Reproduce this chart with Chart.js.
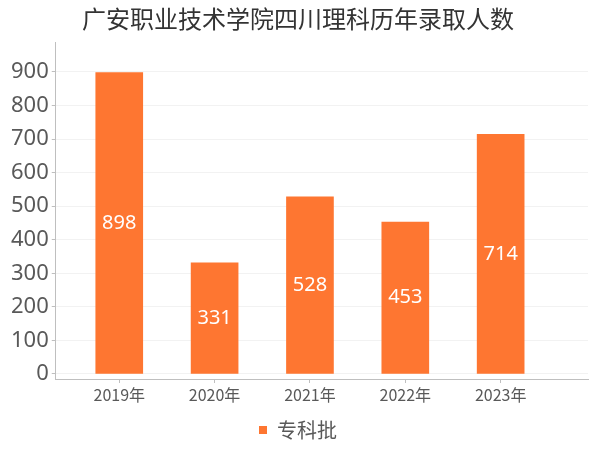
<!DOCTYPE html>
<html>
<head>
<meta charset="utf-8">
<script src="https://cdn.jsdelivr.net/npm/chart.js@4"></script>
<style>
    html, body { margin: 0; padding: 0; background: #fff; }
    #wrap { width: 600px; height: 450px; }
</style>
</head>
<body>
<div id="wrap"><canvas id="chart"></canvas></div>
<script>
// Data
const years = ['2019年', '2020年', '2021年', '2022年', '2023年'];
const admitted = [898, 331, 528, 453, 714];
const yTicks = [0, 100, 200, 300, 400, 500, 600, 700, 800, 900];
const seriesName = '专科批';
const chartTitle = '广安职业技术学院四川理科历年录取人数';

const barColor = '#fe7631';
const textColor = '#595959';

// White value labels in the middle of each bar
const barValueLabels = {
    id: 'barValueLabels',
    afterDatasetsDraw(chart) {
        const ctx = chart.ctx;
        const meta = chart.getDatasetMeta(0);
        ctx.save();
        ctx.fillStyle = '#ffffff';
        ctx.font = '20px "Noto Sans", sans-serif';
        ctx.textAlign = 'center';
        ctx.textBaseline = 'middle';
        meta.data.forEach((bar, i) => {
            const mid = (bar.y + bar.base) / 2;
            ctx.fillText(String(admitted[i]), bar.x, mid);
        });
        ctx.restore();
    }
};

const ctx = document.getElementById('chart').getContext('2d');
new Chart(ctx, {
    type: 'bar',
    data: {
        labels: years,
        datasets: [{
            label: seriesName,
            data: admitted.map((v, i) => ({ x: i, y: v })),
            backgroundColor: barColor,
            borderWidth: 0,
            barThickness: 47
        }]
    },
    options: {
        responsive: true,
        maintainAspectRatio: false,
        animation: false,
        layout: {
            padding: { left: 8, right: 12, top: 0, bottom: 0 }
        },
        plugins: {
            title: {
                display: true,
                text: chartTitle,
                color: '#333333',
                font: { family: '"Noto Sans CJK SC", sans-serif', size: 24, weight: 'normal' },
                padding: { top: 4, bottom: 10 }
            },
            legend: {
                position: 'bottom',
                labels: {
                    color: textColor,
                    boxWidth: 8,
                    boxHeight: 8,
                    padding: 6,
                    font: { family: '"Noto Sans CJK SC", sans-serif', size: 20 }
                }
            },
            tooltip: { enabled: false }
        },
        scales: {
            x: {
                type: 'linear',
                offset: false,
                min: -0.666,
                max: 4.916,
                grid: {
                    display: true,
                    offset: false,
                    drawOnChartArea: false,
                    drawTicks: true,
                    tickLength: 4,
                    color: '#bfbfbf'
                },
                border: { color: '#bfbfbf' },
                afterBuildTicks: function(axis) {
                    axis.ticks = years.map((_, i) => ({ value: i }));
                },
                afterFit: function(axis) {
                    axis.height = 35;
                },
                ticks: {
                    color: textColor,
                    padding: 2,
                    font: { family: '"Noto Sans CJK SC", sans-serif', size: 16 },
                    callback: function(value) {
                        return years[value] !== undefined ? years[value] : '';
                    }
                }
            },
            y: {
                min: -15,
                max: 987,
                grid: {
                    color: '#f2f2f2',
                    tickLength: 4,
                    tickColor: '#bfbfbf'
                },
                border: { color: '#bfbfbf' },
                afterBuildTicks: function(axis) {
                    axis.ticks = yTicks.map(v => ({ value: v }));
                },
                ticks: {
                    color: textColor,
                    padding: 3,
                    font: { family: '"Noto Sans", sans-serif', size: 22 }
                }
            }
        }
    },
    plugins: [barValueLabels]
});
</script>
</body>
</html>
